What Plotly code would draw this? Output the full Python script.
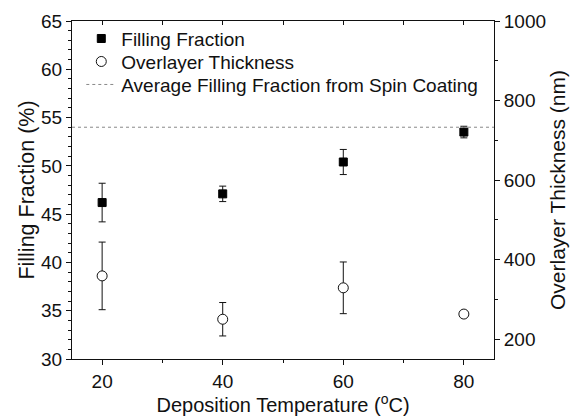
import plotly.graph_objects as go

temps = [20, 40, 60, 80]
filling = [46.2, 47.1, 50.4, 53.5]
filling_err = [2.0, 0.8, 1.3, 0.6]
thickness = [359, 250, 329, 263]
thickness_err = [85, 42, 65, 8]
spin_avg = 54.0
x_range = [15, 85]

FONT = "Liberation Sans, Arial, sans-serif"
INK = "#111111"

fig = go.Figure()
fig.add_trace(go.Scatter(
    x=temps, y=filling, mode="markers", name="Filling Fraction", legend="legend",
    marker=dict(symbol="square", size=8, color="black", line=dict(width=1, color="black")),
    error_y=dict(type="data", array=filling_err, color=INK, thickness=1, width=3.5),
))
fig.add_trace(go.Scatter(
    x=temps, y=thickness, mode="markers", name="Overlayer Thickness", yaxis="y2",
    legend="legend2",
    marker=dict(symbol="circle", size=10, color="white", line=dict(width=1, color=INK)),
    error_y=dict(type="data", array=thickness_err, color=INK, thickness=1, width=3.5),
))
fig.add_trace(go.Scatter(
    x=x_range, y=[spin_avg, spin_avg], mode="lines", legend="legend3",
    name="Average Filling Fraction from Spin Coating",
    line=dict(color="#888888", width=1, dash="dot"),
))
# invisible trace to activate top mirror axis
fig.add_trace(go.Scatter(x=x_range, y=[spin_avg, spin_avg], xaxis="x2", mode="lines",
                         line=dict(width=0), showlegend=False, hoverinfo="skip"))

leg = dict(x=0.022, xanchor="left", yanchor="top", bgcolor="rgba(0,0,0,0)",
           font=dict(size=19), itemwidth=30)

fig.update_layout(
    width=572, height=416,
    margin=dict(l=72, r=78, t=21, b=57),
    paper_bgcolor="white", plot_bgcolor="white",
    font=dict(family=FONT, size=19, color=INK),
    showlegend=True,
    legend=dict(leg, y=1.004),
    legend2=dict(leg, y=0.936),
    legend3=dict(leg, y=0.868),
    xaxis=dict(range=x_range, tickmode="array", tickvals=temps, ticks="outside",
               ticklen=5, tickwidth=1, tickcolor=INK, showline=True, linecolor=INK,
               linewidth=1, showgrid=False, zeroline=False, automargin=False,
               tickfont=dict(size=19),
               minor=dict(tickmode="array", tickvals=[30, 50, 70], ticks="outside",
                          ticklen=3, tickcolor=INK),
               title=dict(text="Deposition Temperature (<sup>o</sup>C)", standoff=3,
                          font=dict(size=20))),
    xaxis2=dict(range=x_range, overlaying="x", side="top", matches="x", showline=True,
                linecolor=INK, linewidth=1, ticks="inside", ticklen=4, tickcolor=INK,
                tickmode="array", tickvals=[20, 30, 40, 50, 60, 70, 80],
                showticklabels=False, showgrid=False, zeroline=False),
    yaxis=dict(range=[30, 65], tickmode="linear", tick0=30, dtick=5, ticks="outside",
               ticklen=5, tickwidth=1, tickcolor=INK, showline=True, linecolor=INK,
               linewidth=1, showgrid=False, zeroline=False, automargin=False,
               tickfont=dict(size=19),
               minor=dict(tickmode="linear", tick0=30, dtick=1, ticks="outside",
                          ticklen=3, tickcolor=INK),
               title=dict(text="Filling Fraction (%)", standoff=0, font=dict(size=21.5))),
    yaxis2=dict(range=[150, 1000], overlaying="y", side="right", tickmode="linear",
                tick0=200, dtick=200, ticks="outside", ticklen=5, tickwidth=1,
                tickcolor=INK, showline=True, linecolor=INK, linewidth=1,
                showgrid=False, zeroline=False, automargin=False,
                tickfont=dict(size=19),
                minor=dict(tickmode="linear", tick0=100, dtick=100, ticks="outside",
                           ticklen=3, tickcolor=INK),
                title=dict(text="Overlayer Thickness (nm)", standoff=5, font=dict(size=21))),
)

fig.write_html("out.html")
